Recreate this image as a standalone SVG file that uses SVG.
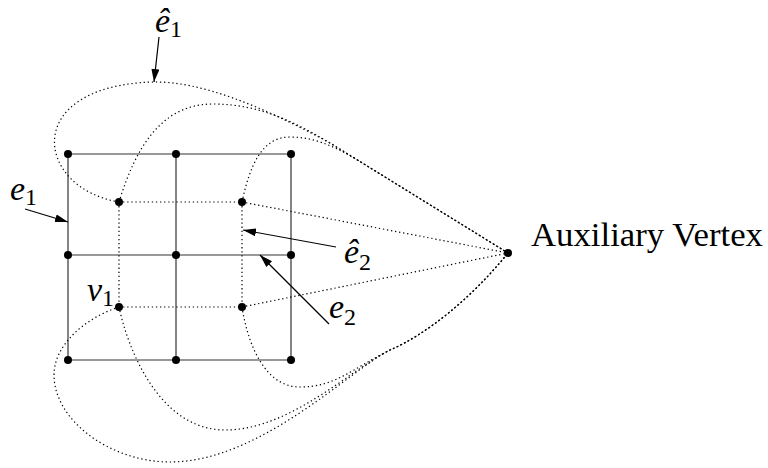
<svg xmlns="http://www.w3.org/2000/svg" width="768" height="468" viewBox="0 0 768 468">
<style>
.edge{stroke:#333;stroke-width:1.2;fill:none}
.dual{stroke:#000;stroke-width:1.2;fill:none;stroke-dasharray:1.3 2.8}
.ptr{stroke:#000;stroke-width:1.2;fill:none;marker-end:url(#ah)}
.v{fill:#000}
.f{font-family:'Liberation Serif','DejaVu Serif','Times New Roman','Nimbus Roman','FreeSerif','Noto Serif',Tinos,serif}
.m{font-style:italic;font-size:34px;fill:#000}
.s{font-style:normal;font-size:24px}
.t{font-size:34px;fill:#000}
</style>
<defs>
<marker id="ah" markerUnits="userSpaceOnUse" markerWidth="14" markerHeight="10" refX="13" refY="4" orient="auto">
<path d="M0,0 L13,4 L0,8 z" fill="#000"/>
</marker>
</defs>
<rect width="768" height="468" fill="#fff"/>
<g id="connectors">
<g id="primal-edges">
<line class="edge" x1="68" y1="154" x2="291" y2="154"/>
<line class="edge" x1="68" y1="255" x2="291" y2="255"/>
<line class="edge" x1="68" y1="360" x2="291" y2="360"/>
<line class="edge" x1="68" y1="154" x2="68" y2="360"/>
<line class="edge" x1="176" y1="154" x2="176" y2="360"/>
<line class="edge" x1="291" y1="154" x2="291" y2="360"/>
</g>
<g id="dual-edges">
<line class="dual" x1="119" y1="202" x2="242" y2="202"/>
<line class="dual" x1="119" y1="307" x2="242" y2="307"/>
<line class="dual" x1="119" y1="202" x2="119" y2="307"/>
<line class="dual" x1="242" y1="202" x2="242" y2="307"/>
<line class="dual" x1="242" y1="202" x2="508" y2="253"/>
<line class="dual" x1="242" y1="307" x2="508" y2="253"/>
<path class="dual" d="M119,202 C35,188 20,86 153,82 C200,81 262,106 330,143 L508,253"/>
<path class="dual" d="M119,202 C135,150 160,104 213,104 C262,104 300,124 345,152.3 L508,253"/>
<path class="dual" d="M242,202 C250,165 262,137 290,137 C312,137 332,145 355,158.45 L508,253"/>
<path class="dual" d="M242,307 C248,345 265,387 300,387 C335,387 350,370 390,350 C425,335 470,300 508,253"/>
<path class="dual" d="M119,307 C128,350 160,430 225,430 C290,430 350,370 390,350 C425,335 470,300 508,253"/>
<path class="dual" d="M119,307 C85,318 54,345 54,375 C54,420 110,462 170,462 C260,462 350,370 390,350 C425,335 470,300 508,253"/>
</g>
<g id="pointers">
<line class="ptr" x1="159" y1="37" x2="154" y2="82"/>
<line class="ptr" x1="25" y1="209" x2="68" y2="222"/>
<line class="ptr" x1="336" y1="247" x2="243" y2="230"/>
<line class="ptr" x1="329" y1="324" x2="260" y2="255"/>
</g>
</g>
<g id="primal-vertices">
<circle id="p00" class="v" cx="68" cy="154" r="4"/>
<circle id="p01" class="v" cx="176" cy="154" r="4"/>
<circle id="p02" class="v" cx="291" cy="154" r="4"/>
<circle id="p10" class="v" cx="68" cy="255" r="4"/>
<circle id="p11" class="v" cx="176" cy="255" r="4"/>
<circle id="p12" class="v" cx="291" cy="255" r="4"/>
<circle id="p20" class="v" cx="68" cy="360" r="4"/>
<circle id="p21" class="v" cx="176" cy="360" r="4"/>
<circle id="p22" class="v" cx="291" cy="360" r="4"/>
</g>
<g id="dual-vertices">
<circle id="d00" class="v" cx="119" cy="202" r="4"/>
<circle id="d01" class="v" cx="242" cy="202" r="4"/>
<g id="v1"><circle class="v" cx="119" cy="307" r="4"/><text class="f m" x="87" y="301">v<tspan class="s" dy="5">1</tspan></text></g>
<circle id="d11" class="v" cx="242" cy="307" r="4"/>
</g>
<g id="aux"><circle class="v" cx="508" cy="253" r="4"/><text class="f t" x="531" y="246" textLength="232" lengthAdjust="spacingAndGlyphs">Auxiliary Vertex</text></g>
<g id="labels">
<text id="lbl-e1hat" class="f m" x="155" y="32">ê<tspan class="s" dy="5">1</tspan></text>
<text id="lbl-e1" class="f m" x="10" y="200">e<tspan class="s" dy="5">1</tspan></text>
<text id="lbl-e2hat" class="f m" x="344" y="263">ê<tspan class="s" dy="7">2</tspan></text>
<text id="lbl-e2" class="f m" x="329" y="318">e<tspan class="s" dy="7">2</tspan></text>
</g>
</svg>
